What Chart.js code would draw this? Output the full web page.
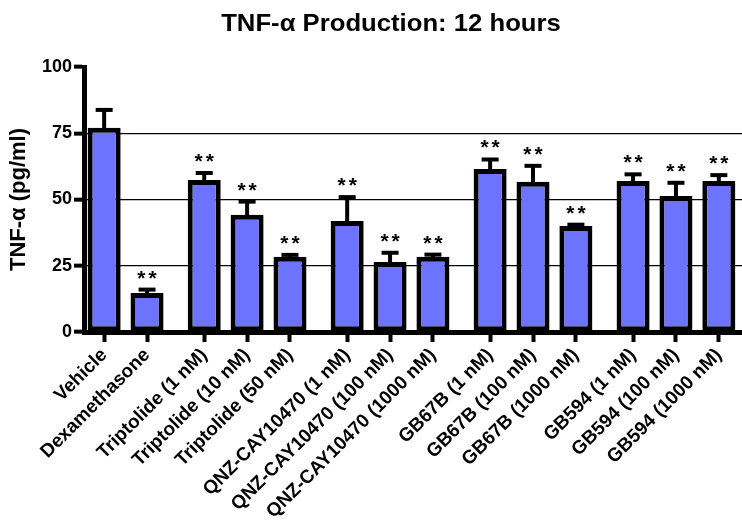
<!DOCTYPE html>
<html>
<head>
<meta charset="utf-8">
<script src="https://cdn.jsdelivr.net/npm/chart.js@4.4.1/dist/chart.umd.min.js"></script>
<style>
  html, body { margin: 0; padding: 0; background: #fff; }
  #wrap { width: 742px; height: 527px; position: relative; }
</style>
</head>
<body>
<div id="wrap"><canvas id="c" width="742" height="527"></canvas></div>
<script>
// Treatment groups, in plotting order
const categories = [
  'Vehicle', 'Dexamethasone',
  'Triptolide (1 nM)', 'Triptolide (10 nM)', 'Triptolide (50 nM)',
  'QNZ-CAY10470 (1 nM)', 'QNZ-CAY10470 (100 nM)', 'QNZ-CAY10470 (1000 nM)',
  'GB67B (1 nM)', 'GB67B (100 nM)', 'GB67B (1000 nM)',
  'GB594 (1 nM)', 'GB594 (100 nM)', 'GB594 (1000 nM)'
];
// How many bars sit together in each cluster
const groupSizes = [2, 3, 3, 3, 3];
// Mean TNF-alpha (pg/ml) and its error (upper bar only)
const tnfMean = [77.1, 14.7, 57.4, 44.2, 28.4, 41.9, 26.4, 28.4, 61.5, 56.7, 40.0, 57.0, 51.3, 57.0];
const tnfErr  = [6.7, 1.3, 2.6, 5.0, 0.7, 9.0, 3.5, 0.8, 3.6, 6.0, 0.5, 2.5, 5.0, 2.2];
// Significance markers versus vehicle
const significance = ['', '**', '**', '**', '**', '**', '**', '**', '**', '**', '**', '**', '**', '**'];
// Y axis tick values
const yTicks = [0, 25, 50, 75, 100];

const FONT = "'Liberation Sans', Arial, sans-serif";
Chart.defaults.font.family = FONT;
Chart.defaults.color = '#000';

// Category index positions, with a third of a slot between clusters
const clusterGap = 1 / 3;
const xPos = [];
{
  let x = 0;
  groupSizes.forEach(n => {
    for (let i = 0; i < n; i++) { xPos.push(x); x += 1; }
    x += clusterGap;
  });
}

const errorBarPlugin = {
  id: 'errorBars',
  afterDatasetsDraw(chart) {
    const ctx = chart.ctx;
    const yScale = chart.scales.y;
    const meta = chart.getDatasetMeta(0);
    ctx.save();
    meta.data.forEach((bar, i) => {
      const x = bar.x;
      const yEnd = yScale.getPixelForValue(tnfMean[i] + tnfErr[i]);
      ctx.strokeStyle = '#000';
      ctx.lineWidth = 4;
      ctx.lineCap = 'butt';
      ctx.beginPath();
      ctx.moveTo(x, bar.y + 2);
      ctx.lineTo(x, yEnd);
      ctx.stroke();
      ctx.beginPath();
      ctx.moveTo(x - 8.5, yEnd);
      ctx.lineTo(x + 8.5, yEnd);
      ctx.stroke();
      const mark = significance[i];
      if (mark) {
        ctx.font = 'bold 21px ' + FONT;
        ctx.fillStyle = '#000';
        ctx.textBaseline = 'alphabetic';
        ctx.textAlign = 'left';
        const ls = 3;
        ctx.letterSpacing = ls + 'px';
        const w = ctx.measureText(mark).width;
        ctx.fillText(mark, x - (w - ls) / 2, yEnd - 5);
        ctx.letterSpacing = '0px';
      }
    });
    ctx.restore();
  }
};

const titlePlugin = {
  id: 'mainTitle',
  afterDraw(chart) {
    const ctx = chart.ctx;
    ctx.save();
    ctx.font = 'bold 24px ' + FONT;
    ctx.fillStyle = '#000';
    ctx.textAlign = 'center';
    ctx.textBaseline = 'alphabetic';
    ctx.translate(391, 31);
    ctx.scale(1.07, 1);
    ctx.fillText('TNF-\u03B1 Production: 12 hours', 0, 0);
    ctx.restore();
  }
};

new Chart(document.getElementById('c'), {
  type: 'bar',
  data: {
    datasets: [{
      data: xPos.map((x, i) => ({ x: x, y: tnfMean[i] })),
      backgroundColor: '#6B73FF',
      borderColor: '#000',
      borderWidth: 5,
      borderSkipped: false,
      barPercentage: 0.77,
      categoryPercentage: 1
    }]
  },
  options: {
    responsive: false,
    devicePixelRatio: 1,
    animation: false,
    layout: { padding: { top: 67, right: 0, bottom: 0, left: 0 } },
    plugins: {
      legend: { display: false },
      tooltip: { enabled: false },
      title: { display: false }
    },
    scales: {
      x: {
        type: 'linear',
        min: xPos[0] - 0.47,
        max: xPos[xPos.length - 1] + 0.54,
        offset: false,
        grid: {
          display: true, drawOnChartArea: false, drawTicks: true, offset: false,
          tickLength: 10, tickWidth: 4, tickColor: '#000'
        },
        border: { display: true, color: '#000', width: 5 },
        ticks: {
          autoSkip: false, minRotation: 45, maxRotation: 45, padding: 2,
          color: '#000', font: { size: 19, weight: 'bold' },
          callback: (v, i) => categories[i]
        },
        afterBuildTicks: s => { s.ticks = xPos.map(v => ({ value: v })); },
        afterFit: s => { s.height = 195; }
      },
      y: {
        min: yTicks[0],
        max: yTicks[yTicks.length - 1],
        afterBuildTicks: s => { s.ticks = yTicks.map(v => ({ value: v })); },
        grid: {
          color: c => (c.tick && (c.tick.value === 0 || c.tick.value === 100)) ? 'rgba(0,0,0,0)' : '#000',
          lineWidth: 1.3, drawTicks: true, tickLength: 10, tickWidth: 4, tickColor: '#000'
        },
        border: { display: true, color: '#000', width: 5 },
        ticks: { padding: 2, color: '#000', font: { size: 18, weight: 'bold' } },
        title: {
          display: true, text: 'TNF-\u03B1 (pg/ml)', color: '#000',
          font: { size: 22, weight: 'bold' }, padding: { top: 6, bottom: 0 }
        },
        afterFit: s => { s.width = 84; }
      }
    }
  },
  plugins: [errorBarPlugin, titlePlugin]
});
</script>
</body>
</html>
